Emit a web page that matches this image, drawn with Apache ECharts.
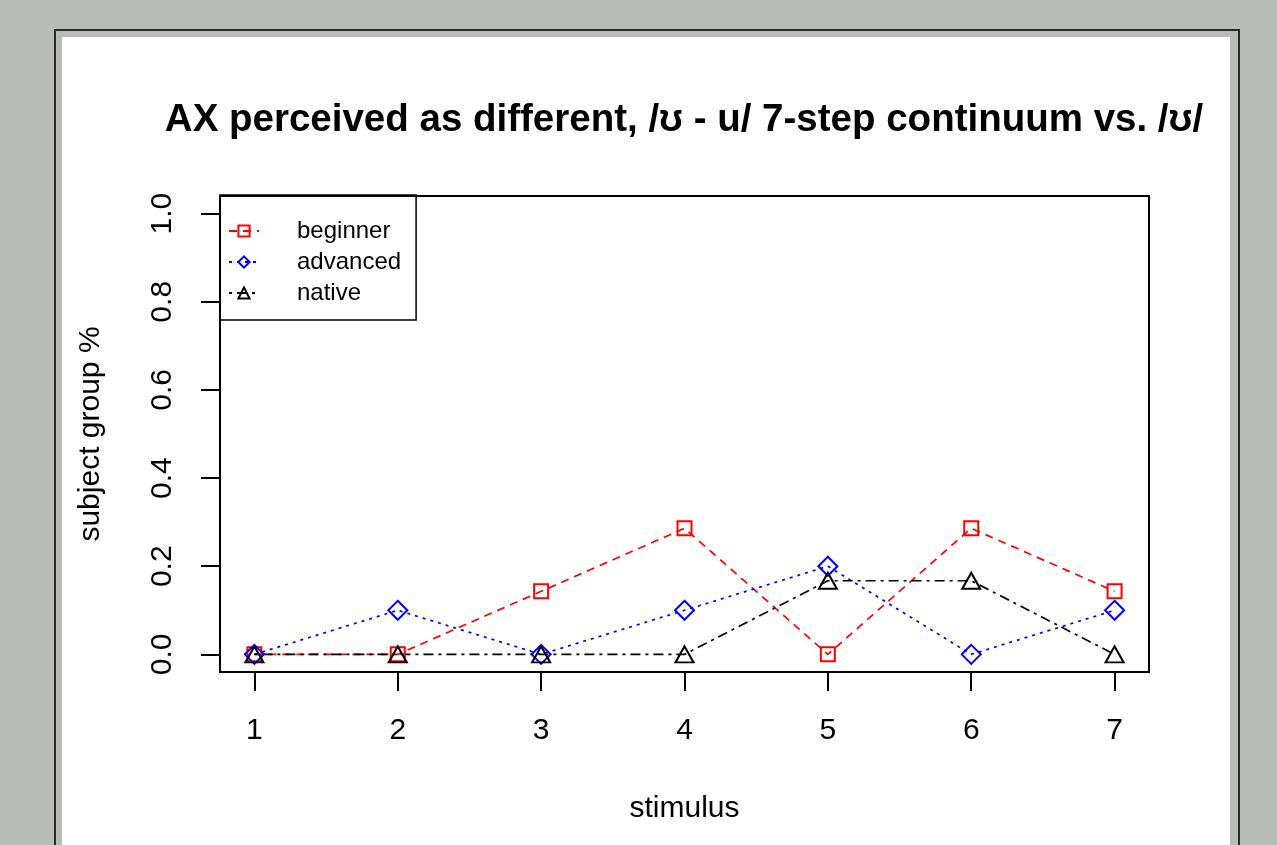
<!DOCTYPE html>
<html>
<head>
<meta charset="utf-8">
<script src="https://cdn.jsdelivr.net/npm/echarts@6/dist/echarts.min.js"></script>
<style>
  html, body { margin: 0; padding: 0; background: #b9bbb6; width: 1277px; height: 845px; overflow: hidden; }
  #frame { position: absolute; left: 54px; top: 29px; width: 1182px; height: 840px; border: 2px solid #2b2b2b; background: #b9bbb6; }
  #panel { position: absolute; left: 62px; top: 37px; width: 1168px; height: 820px; background: #ffffff; }
  #chart { position: absolute; left: 0; top: 0; width: 1277px; height: 845px; }
</style>
</head>
<body>
<div id="frame"></div>
<div id="panel"></div>
<div id="chart"></div>
<script>
const titleText = 'AX perceived as different, /\u028A - u/ 7-step continuum vs. /\u028A/';
const xLabel = 'stimulus';
const yLabel = 'subject group %';
const stimuli = [1, 2, 3, 4, 5, 6, 7];
const xTicks = [1, 2, 3, 4, 5, 6, 7];
const yTicks = [0, 0.2, 0.4, 0.6, 0.8, 1.0];
const seriesNames = ['beginner', 'advanced', 'native'];
const beginner = [0, 0, 0.143, 0.286, 0, 0.286, 0.143];
const advanced = [0, 0.1, 0, 0.1, 0.2, 0, 0.1];
const native = [0, 0, 0, 0, 0.167, 0.167, 0];

const FONT = 'Liberation Sans, Arial, Helvetica, sans-serif';
const pairs = vals => stimuli.map((s, i) => [s, vals[i]]);

const chart = echarts.init(document.getElementById('chart'), null, { renderer: 'canvas' });

function mkSeries(name, vals, color, dash, symbol, size) {
  return {
    name: name,
    type: 'line',
    data: pairs(vals),
    symbol: symbol,
    symbolSize: size,
    showAllSymbol: true,
    lineStyle: { color: color, width: 1.7, type: dash },
    itemStyle: { color: 'rgba(255,255,255,0)', borderColor: color, borderWidth: 2 },
    emphasis: { disabled: true },
    animation: false,
    z: 3
  };
}

chart.setOption({
  backgroundColor: 'transparent',
  animation: false,
  title: {
    text: titleText,
    left: 684,
    top: 101,
    textAlign: 'center',
    padding: 0,
    textStyle: { fontFamily: FONT, fontSize: 38.5, fontWeight: 'bold', color: '#000' }
  },
  grid: {
    left: 220, right: 128, top: 196, bottom: 173,
    show: true, borderColor: '#000', borderWidth: 2, backgroundColor: 'transparent'
  },
  legend: {
    orient: 'vertical',
    left: 220,
    top: 195,
    data: seriesNames,
    padding: [24, 15, 15, 8],
    itemGap: 7,
    itemWidth: 30,
    itemHeight: 14,
    borderColor: '#000',
    borderWidth: 1.5,
    borderRadius: 0,
    selectedMode: false,
    textStyle: { fontFamily: FONT, fontSize: 24, color: '#000', padding: [0, 0, 0, 33] }
  },
  xAxis: {
    type: 'value',
    min: 0.76,
    max: 7.24,
    name: xLabel,
    nameLocation: 'middle',
    nameGap: 122,
    nameTextStyle: { fontFamily: FONT, fontSize: 30, color: '#000' },
    axisLine: { show: false, onZero: false },
    splitLine: { show: false },
    axisTick: { show: true, inside: false, customValues: xTicks, length: 19, lineStyle: { color: '#000', width: 2 } },
    axisLabel: { customValues: xTicks, fontFamily: FONT, fontSize: 30, color: '#000', margin: 44 }
  },
  yAxis: {
    type: 'value',
    min: -0.04,
    max: 1.04,
    name: yLabel,
    nameLocation: 'middle',
    nameGap: 114,
    nameTextStyle: { fontFamily: FONT, fontSize: 30, color: '#000' },
    axisLine: { show: false, onZero: false },
    splitLine: { show: false },
    axisTick: { show: true, inside: false, customValues: yTicks, length: 19, lineStyle: { color: '#000', width: 2 } },
    axisLabel: {
      customValues: yTicks, rotate: 90, fontFamily: FONT, fontSize: 30, color: '#000', margin: 42,
      formatter: v => Number(v).toFixed(1)
    }
  },
  series: [
    mkSeries('beginner', beginner, '#ff0000', [8, 6], 'rect', 14),
    mkSeries('advanced', advanced, '#0000ff', [3, 5], 'diamond', 19),
    mkSeries('native', native, '#000000', [3, 5, 10, 5], 'triangle', [18, 16])
  ]
});
</script>
</body>
</html>
